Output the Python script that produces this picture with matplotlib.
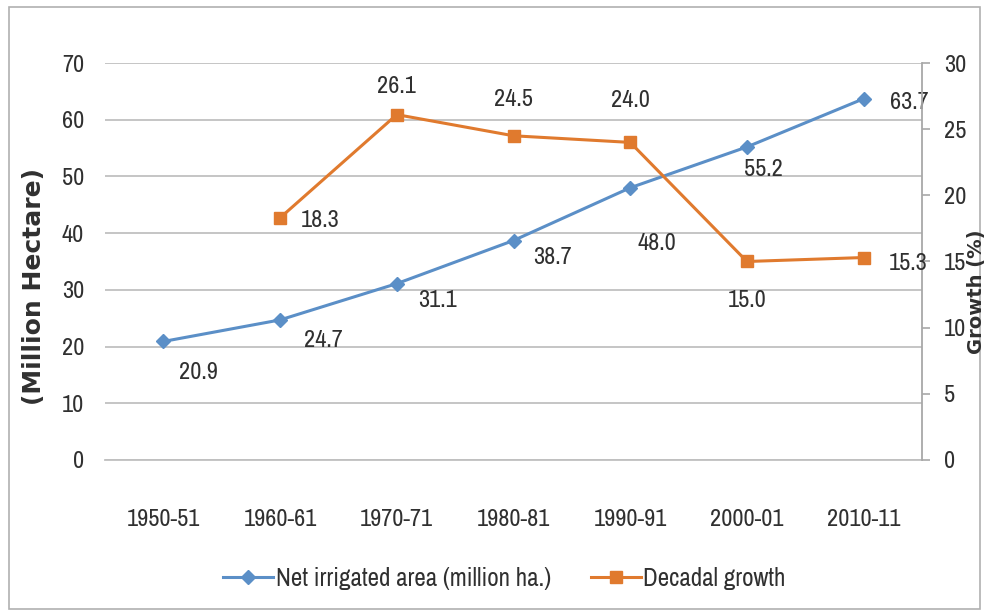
import matplotlib
matplotlib.use("Agg")
import matplotlib.pyplot as plt
from matplotlib.patches import Rectangle
from matplotlib import font_manager

periods = ["1950-51", "1960-61", "1970-71", "1980-81", "1990-91", "2000-01", "2010-11"]
net_irrigated = [20.9, 24.7, 31.1, 38.7, 48.0, 55.2, 63.7]
growth_periods = ["1960-61", "1970-71", "1980-81", "1990-91", "2000-01", "2010-11"]
decadal_growth = [18.3, 26.1, 24.5, 24.0, 15.0, 15.3]
left_ticks = [0, 10, 20, 30, 40, 50, 60, 70]
right_ticks = [0, 5, 10, 15, 20, 25, 30]

names = {f.name for f in font_manager.fontManager.ttflist}
narrow = next((n for n in ["Archivo Narrow", "Asap Condensed", "Barlow Semi Condensed"]
               if n in names), "DejaVu Sans")

BLUE = "#5b8fc7"
ORANGE = "#e07a2e"
TXT = "#303030"
GRID = "#c0c0c0"
FS = 17.5

fig = plt.figure(figsize=(9.89, 6.16), dpi=100)
fig.patches.append(Rectangle((0.009, 0.012), 0.982, 0.976, transform=fig.transFigure,
                             fill=False, edgecolor="#b0b0b0", linewidth=1.2))

ax = fig.add_axes([105 / 989, 1 - 460 / 616, (922 - 105) / 989, (460 - 63) / 616])
ax2 = ax.twinx()

x = list(range(len(periods)))
xg = [periods.index(p) for p in growth_periods]

ax.set_xlim(-0.5, len(periods) - 0.5)
ax.set_ylim(0, 70)
ax.set_yticks(left_ticks)
ax.grid(axis="y", color=GRID, linewidth=1.3)
ax.set_axisbelow(True)
for s in ["top", "left", "right"]:
    ax.spines[s].set_visible(False)
ax.spines["bottom"].set_color(GRID)
ax.spines["bottom"].set_linewidth(1.3)
ax.tick_params(axis="both", length=0, labelsize=FS, labelcolor=TXT)
ax.tick_params(axis="x", pad=35)
ax.tick_params(axis="y", pad=15)
ax.set_xticks(x)
ax.set_xticklabels(periods, fontfamily=narrow)
for lbl in ax.get_yticklabels():
    lbl.set_fontfamily(narrow)

ax2.set_ylim(0, 30)
ax2.set_yticks(right_ticks)
for s in ["top", "left", "bottom"]:
    ax2.spines[s].set_visible(False)
ax2.spines["right"].set_color("#a8a8a8")
ax2.spines["right"].set_linewidth(1.3)
ax2.tick_params(axis="y", length=6, width=1.2, color="#a8a8a8", labelsize=FS,
                labelcolor=TXT, pad=10)
for lbl in ax2.get_yticklabels():
    lbl.set_fontfamily(narrow)

l1, = ax.plot(x, net_irrigated, color=BLUE, linewidth=2.2, marker="D", markersize=7,
              markeredgecolor=BLUE, label="Net irrigated area (million ha.)", zorder=3)
l2, = ax2.plot(xg, decadal_growth, color=ORANGE, linewidth=2.2, marker="s", markersize=9,
               markeredgecolor=ORANGE, label="Decadal growth", zorder=3)

# label offsets in points (dx, dy)
blue_off = [(25, -22), (31, -15), (29, -12), (28, -12), (19, -40), (12, -16), (33, -3)]
orange_off = [(29, -2), (0, 20), (0, 26), (0, 30), (0, -28), (32, -4)]
for xi, v, (dx, dy) in zip(x, net_irrigated, blue_off):
    ax.annotate(f"{v:.1f}", (xi, v), xytext=(dx, dy), textcoords="offset points",
                ha="center", va="center", fontsize=FS, color=TXT, fontfamily=narrow)
for xi, v, (dx, dy) in zip(xg, decadal_growth, orange_off):
    ax2.annotate(f"{v:.1f}", (xi, v), xytext=(dx, dy), textcoords="offset points",
                 ha="center", va="center", fontsize=FS, color=TXT, fontfamily=narrow)

fig.text(0.034, 1 - 287 / 616, "(Million Hectare)", rotation=90, ha="center", va="center",
         fontsize=18, fontweight="bold", color=TXT, family="DejaVu Sans")
fig.text(0.987, 1 - 292 / 616, "Growth (%)", rotation=90, ha="center", va="center",
         fontsize=14, fontweight="bold", color=TXT, family="DejaVu Sans")

leg = fig.legend([l1, l2], [l1.get_label(), l2.get_label()], loc="center",
                 bbox_to_anchor=(0.51, 1 - 578 / 616), ncol=2, frameon=False,
                 prop={"family": narrow, "size": 18}, handlelength=2.0,
                 handletextpad=0.1, columnspacing=1.6)
for t in leg.get_texts():
    t.set_color(TXT)

fig.savefig("out.png", dpi=100)
